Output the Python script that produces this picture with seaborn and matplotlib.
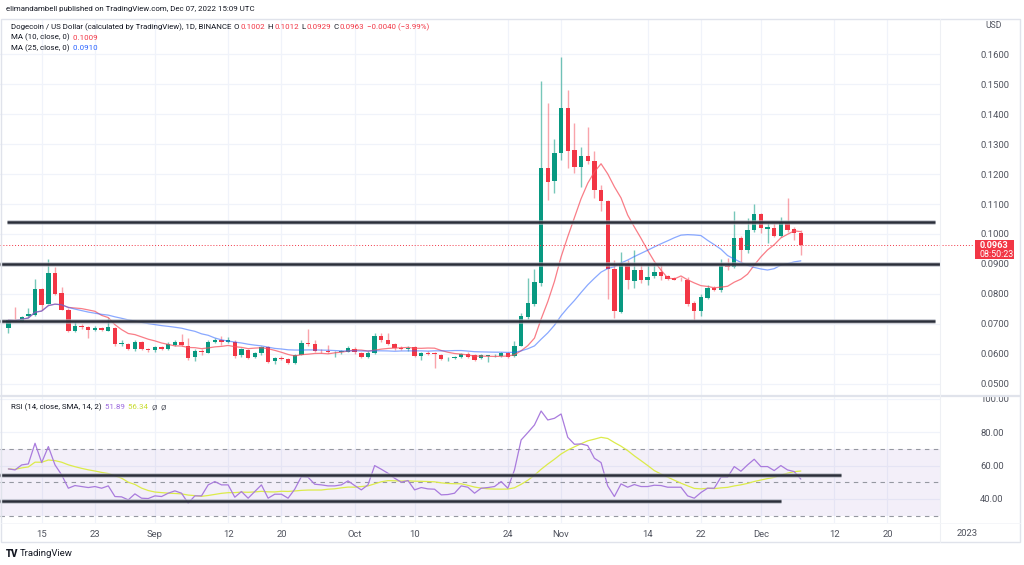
import numpy as np
import pandas as pd
import matplotlib
matplotlib.use("Agg")
import matplotlib.pyplot as plt
import matplotlib.transforms as mtransforms
from matplotlib.patches import Rectangle
from matplotlib.lines import Line2D
import seaborn as sns

# ---------------- data ----------------
# daily candles, Aug 10 2022 .. Dec 7 2022 (index 0..119)
opens = [0.0686, 0.0713, 0.0710, 0.0727, 0.0729, 0.0816, 0.0767, 0.0870, 0.0803, 0.0747,
         0.0677, 0.0693, 0.0690, 0.0680, 0.0687, 0.0677, 0.0688, 0.0633, 0.0634, 0.0617,
         0.0640, 0.0617, 0.0613, 0.0624, 0.0617, 0.0630, 0.0640, 0.0628, 0.0589, 0.0611,
         0.0604, 0.0641, 0.0648, 0.0640, 0.0641, 0.0596, 0.0613, 0.0589, 0.0602, 0.0622,
         0.0577, 0.0588, 0.0583, 0.0571, 0.0597, 0.0636, 0.0632, 0.0611, 0.0609, 0.0605,
         0.0608, 0.0608, 0.0618, 0.0604, 0.0591, 0.0602, 0.0660, 0.0647, 0.0634, 0.0621,
         0.0615, 0.0622, 0.0593, 0.0604, 0.0602, 0.0597, 0.0586, 0.0587, 0.0590, 0.0600,
         0.0597, 0.0587, 0.0594, 0.0595, 0.0593, 0.0604, 0.0593, 0.0628, 0.0724, 0.0767,
         0.0838, 0.1219, 0.1177, 0.1269, 0.1419, 0.1280, 0.1224, 0.1260, 0.1243, 0.1147,
         0.1111, 0.0882, 0.0741, 0.0897, 0.0844, 0.0880, 0.0847, 0.0859, 0.0872, 0.0859,
         0.0852, 0.0848, 0.0847, 0.0769, 0.0743, 0.0786, 0.0821, 0.0813, 0.0893, 0.0889,
         0.0986, 0.0947, 0.1013, 0.1066, 0.1017, 0.1021, 0.0994, 0.1041, 0.1016, 0.1002]
highs = [0.0714, 0.0757, 0.0728, 0.0753, 0.0850, 0.0820, 0.0917, 0.0891, 0.0823, 0.0753,
         0.0710, 0.0700, 0.0693, 0.0692, 0.0690, 0.0720, 0.0691, 0.0645, 0.0638, 0.0645,
         0.0643, 0.0620, 0.0628, 0.0628, 0.0640, 0.0647, 0.0665, 0.0652, 0.0615, 0.0615,
         0.0645, 0.0652, 0.0660, 0.0655, 0.0645, 0.0620, 0.0618, 0.0608, 0.0628, 0.0625,
         0.0590, 0.0592, 0.0588, 0.0600, 0.0645, 0.0682, 0.0645, 0.0616, 0.0630, 0.0610,
         0.0613, 0.0625, 0.0622, 0.0608, 0.0610, 0.0669, 0.0670, 0.0670, 0.0638, 0.0625,
         0.0625, 0.0628, 0.0607, 0.0610, 0.0606, 0.0600, 0.0590, 0.0592, 0.0603, 0.0608,
         0.0600, 0.0600, 0.0598, 0.0600, 0.0608, 0.0607, 0.0642, 0.0735, 0.0853, 0.0883,
         0.1511, 0.1438, 0.1316, 0.1589, 0.1480, 0.1371, 0.1291, 0.1358, 0.1278, 0.1165,
         0.1115, 0.0913, 0.0940, 0.0913, 0.0947, 0.0902, 0.0902, 0.0902, 0.0899, 0.0863,
         0.0858, 0.0855, 0.0857, 0.0775, 0.0800, 0.0830, 0.0826, 0.0916, 0.0920, 0.1078,
         0.0992, 0.1052, 0.1100, 0.1070, 0.1038, 0.1035, 0.1055, 0.1119, 0.1024, 0.1012]
lows = [0.0669, 0.0708, 0.0706, 0.0722, 0.0726, 0.0747, 0.0765, 0.0797, 0.0745, 0.0673,
        0.0673, 0.0683, 0.0653, 0.0676, 0.0677, 0.0675, 0.0628, 0.0628, 0.0612, 0.0610,
        0.0613, 0.0608, 0.0605, 0.0612, 0.0613, 0.0627, 0.0626, 0.0580, 0.0578, 0.0598,
        0.0602, 0.0635, 0.0630, 0.0635, 0.0588, 0.0590, 0.0583, 0.0585, 0.0598, 0.0570,
        0.0565, 0.0580, 0.0565, 0.0568, 0.0595, 0.0625, 0.0608, 0.0603, 0.0603, 0.0590,
        0.0600, 0.0605, 0.0600, 0.0588, 0.0588, 0.0600, 0.0640, 0.0630, 0.0612, 0.0612,
        0.0610, 0.0590, 0.0580, 0.0597, 0.0553, 0.0580, 0.0578, 0.0583, 0.0587, 0.0585,
        0.0578, 0.0583, 0.0572, 0.0590, 0.0590, 0.0588, 0.0590, 0.0625, 0.0718, 0.0760,
        0.0828, 0.1113, 0.1138, 0.1247, 0.1219, 0.1202, 0.1156, 0.1235, 0.1119, 0.1078,
        0.0783, 0.0720, 0.0735, 0.0818, 0.0820, 0.0838, 0.0830, 0.0852, 0.0846, 0.0846,
        0.0845, 0.0843, 0.0760, 0.0713, 0.0727, 0.0782, 0.0811, 0.0808, 0.0880, 0.0885,
        0.0908, 0.0936, 0.1008, 0.1002, 0.0969, 0.0990, 0.0990, 0.1005, 0.0980, 0.0929]
closes = [0.0713, 0.0710, 0.0724, 0.0733, 0.0816, 0.0763, 0.0870, 0.0800, 0.0747, 0.0677,
          0.0693, 0.0690, 0.0680, 0.0687, 0.0680, 0.0690, 0.0633, 0.0636, 0.0617, 0.0640,
          0.0617, 0.0613, 0.0624, 0.0617, 0.0633, 0.0640, 0.0630, 0.0586, 0.0611, 0.0607,
          0.0641, 0.0648, 0.0641, 0.0647, 0.0593, 0.0617, 0.0587, 0.0604, 0.0624, 0.0574,
          0.0586, 0.0584, 0.0569, 0.0597, 0.0636, 0.0632, 0.0611, 0.0609, 0.0607, 0.0607,
          0.0610, 0.0619, 0.0608, 0.0591, 0.0604, 0.0660, 0.0647, 0.0632, 0.0620, 0.0617,
          0.0621, 0.0593, 0.0604, 0.0601, 0.0599, 0.0583, 0.0588, 0.0590, 0.0599, 0.0590,
          0.0581, 0.0596, 0.0596, 0.0597, 0.0604, 0.0591, 0.0628, 0.0727, 0.0769, 0.0839,
          0.1219, 0.1174, 0.1269, 0.1419, 0.1277, 0.1224, 0.1260, 0.1242, 0.1147, 0.1111,
          0.0882, 0.0744, 0.0897, 0.0847, 0.0880, 0.0847, 0.0858, 0.0872, 0.0859, 0.0850,
          0.0847, 0.0845, 0.0767, 0.0744, 0.0789, 0.0821, 0.0813, 0.0893, 0.0889, 0.0986,
          0.0947, 0.1013, 0.1066, 0.1019, 0.1022, 0.0994, 0.1041, 0.1013, 0.1002, 0.0963]
rsi = [58.0, 57.4, 60.4, 61.0, 73.4, 61.8, 71.4, 60.4, 54.4, 46.4,
       48.0, 47.4, 46.8, 47.4, 46.4, 47.8, 41.4, 41.2, 39.4, 43.0,
       40.4, 40.2, 41.8, 41.4, 43.4, 44.8, 43.4, 37.4, 41.8, 41.8,
       48.4, 50.4, 48.4, 48.4, 41.0, 44.4, 40.4, 44.4, 48.4, 40.4,
       42.8, 42.8, 40.4, 45.8, 53.4, 53.0, 48.8, 48.4, 47.8, 47.8,
       48.4, 50.8, 48.0, 45.4, 48.4, 60.0, 57.8, 55.4, 52.4, 50.0,
       51.0, 45.4, 46.8, 46.0, 45.8, 42.4, 42.6, 43.4, 47.8, 47.0,
       43.4, 46.4, 46.8, 47.4, 50.4, 46.4, 57.4, 75.4, 79.8, 84.4,
       92.8, 87.4, 88.4, 91.0, 77.0, 72.8, 73.0, 72.0, 64.4, 61.8,
       47.8, 41.4, 49.0, 47.0, 48.6, 47.4, 47.4, 48.2, 48.0, 47.0,
       47.0, 47.0, 41.8, 40.4, 43.8, 46.4, 46.4, 53.0, 53.0, 59.4,
       56.6, 60.4, 63.8, 59.4, 59.4, 57.0, 60.0, 57.4, 56.4, 51.89]

# date axis (candle index 0 = Aug 10 2022)
tick_pos = [5, 13, 22, 33, 41, 52, 61, 75, 83, 96, 104, 113, 124, 132]
tick_labels = ["15", "23", "Sep", "12", "20", "Oct", "10", "24", "Nov", "14", "22", "Dec", "12", "20"]
year_tick_pos = 144
year_tick_label = "2023"

price_ticks = [0.05, 0.06, 0.07, 0.08, 0.09, 0.10, 0.11, 0.12, 0.13, 0.14, 0.15, 0.16]
rsi_ticks = [40, 60, 80, 100]

# user-drawn horizontal levels: (value, start index, end index)
price_levels = [(0.1041, -0.2, 139.1), (0.0899, -1.3, 140.0), (0.0711, -1.3, 139.1)]
rsi_levels = [(54.4, -1.3, 125.0), (38.7, -1.3, 116.0)]
last_price = 0.0963

# ---------------- style ----------------
sns.set_theme(style="white")
plt.rcParams["font.family"] = ["Roboto", "DejaVu Sans"]

W, H = 1024, 565
fig = plt.figure(figsize=(W / 100, H / 100), dpi=100)
fig.patch.set_facecolor("white")

def rect(x0, y0, x1, y1):
    return [x0 / W, 1 - y1 / H, (x1 - x0) / W, (y1 - y0) / H]

def fx(x):
    return x / W

def fy(y):
    return 1 - y / H

UP = "#089981"
DOWN = "#F23645"
GRID = "#F0F3FA"
TXT = "#131722"
AX_TXT = "#50535E"

ax = fig.add_axes(rect(0, 19, 940, 395))
axr = fig.add_axes(rect(0, 397, 940, 523), sharex=ax)

df = pd.DataFrame({"i": np.arange(len(closes)), "open": opens, "high": highs,
                   "low": lows, "close": closes, "rsi": rsi})
df["ma10"] = df["close"].rolling(10, min_periods=1).mean()
df["ma25"] = df["close"].rolling(25, min_periods=1).mean()
df["rsi_sma"] = df["rsi"].rolling(14, min_periods=1).mean()

up = df["close"] >= df["open"]
body_col = np.where(up, UP, DOWN)
wick_col = [(0.031, 0.6, 0.506, 0.55) if u else (0.949, 0.212, 0.271, 0.45) for u in up]

# grid
for a in (ax, axr):
    for t in tick_pos:
        a.axvline(t, color=GRID, lw=0.9, zorder=0)
for p in price_ticks:
    ax.axhline(p, color=GRID, lw=0.9, zorder=0)
for r in rsi_ticks:
    axr.axhline(r, color=GRID, lw=0.9, zorder=0)

# candles
ax.vlines(df["i"], df["low"], df["high"], colors=wick_col, lw=1.0, zorder=2)
heights = np.maximum((df["close"] - df["open"]).abs(), 0.00018)
ax.bar(df["i"], heights, bottom=np.minimum(df["open"], df["close"]), width=0.66,
       color=body_col, linewidth=0, zorder=3)

# moving averages
sns.lineplot(data=df, x="i", y="ma10", ax=ax, color="#F7525F", alpha=0.75, lw=0.9, zorder=4)
sns.lineplot(data=df, x="i", y="ma25", ax=ax, color="#2962FF", alpha=0.55, lw=0.9, zorder=4)

# user levels
for v, a0, a1 in price_levels:
    ax.plot([a0, a1], [v, v], color="#B2B5BE", lw=3.6, alpha=0.6, solid_capstyle="butt", zorder=5)
    ax.plot([a0, a1], [v, v], color="#2A2E39", lw=1.8, solid_capstyle="butt", zorder=6)

# last price line
ax.plot([-1.3, 144.8], [last_price, last_price], color=DOWN, lw=0.7, ls=(0, (1, 2)),
        clip_on=False, zorder=4)

ax.set_xlim(-1.26, 139.9)
ax.set_ylim(0.04633, 0.17167)

# RSI panel
axr.axhspan(30, 70, color="#7E57C2", alpha=0.09, lw=0, zorder=0)
for lvl in (30, 50, 70):
    axr.axhline(lvl, color="#9598A1", lw=0.8, ls=(0, (4, 4)), zorder=1)
sns.lineplot(data=df, x="i", y="rsi_sma", ax=axr, color="#DCEB4A", lw=0.9, zorder=3)
sns.lineplot(data=df, x="i", y="rsi", ax=axr, color="#A97BDD", lw=0.9, zorder=4)
for v, a0, a1 in rsi_levels:
    axr.plot([a0, a1], [v, v], color="#B2B5BE", lw=3.6, alpha=0.6, solid_capstyle="butt", zorder=5)
    axr.plot([a0, a1], [v, v], color="#2A2E39", lw=1.8, solid_capstyle="butt", zorder=6)
axr.set_ylim(25.5, 101.2)

# axes formatting
for a in (ax, axr):
    a.set_xlabel("")
    a.set_ylabel("")
    for s in a.spines.values():
        s.set_visible(False)
    a.yaxis.tick_right()
    a.tick_params(axis="y", length=0, pad=29, labelsize=6.8, labelcolor=AX_TXT)
    a.set_facecolor("none")

ax.set_yticks(price_ticks)
ax.set_yticklabels([f"{p:.4f}" for p in price_ticks])
ax.tick_params(axis="x", length=0, labelbottom=False)
for lbl in ax.get_yticklabels():
    lbl.set_horizontalalignment("left")

axr.set_yticks(rsi_ticks)
axr.set_yticklabels([f"{r:.2f}" for r in rsi_ticks])
for lbl in axr.get_yticklabels():
    lbl.set_horizontalalignment("left")
axr.set_xticks(tick_pos)
axr.set_xticklabels(tick_labels)
axr.tick_params(axis="x", length=0, pad=5, labelsize=6.8, labelcolor=AX_TXT)
tr = mtransforms.blended_transform_factory(axr.transData, axr.transAxes)
axr.text(year_tick_pos, -0.087, year_tick_label, transform=tr, ha="center", va="center",
         fontsize=6.8, color=AX_TXT, clip_on=False)

# frame / separators
fig.add_artist(Rectangle((fx(1), fy(542)), fx(1019), (542 - 19) / H, transform=fig.transFigure,
                         fill=False, edgecolor="#E0E3EB", lw=1.0))
fig.add_artist(Line2D([fx(1), fx(1020)], [fy(396), fy(396)], transform=fig.transFigure,
                      color="#E0E3EB", lw=1.6))
fig.add_artist(Line2D([fx(940), fx(940)], [fy(19), fy(542)], transform=fig.transFigure,
                      color="#EEF0F4", lw=0.8))
fig.add_artist(Line2D([fx(1), fx(1020)], [fy(523), fy(523)], transform=fig.transFigure,
                      color="#F4F5F8", lw=0.6))

# last price box
fig.add_artist(Rectangle((fx(975), fy(259)), (1014 - 975) / W, (259 - 240) / H,
                         transform=fig.transFigure, facecolor=DOWN, edgecolor="none"))
fig.text(fx(980), fy(245), f"{last_price:.4f}", color="white", fontsize=6.6,
         va="center", ha="left", fontweight="bold")
fig.text(fx(980), fy(254), "08:50:23", color="white", fontsize=6.4, va="center", ha="left")

# texts
fs = 5.65
renderer = fig.canvas.get_renderer()

def chain(x, y, pieces, gap=1.5):
    """Place coloured text pieces one after another (x, y in pixels)."""
    for txt, col in pieces:
        t = fig.text(fx(x), fy(y), txt, fontsize=fs, color=col, va="center", ha="left")
        x = t.get_window_extent(renderer).x1 + gap
    return x

fig.text(fx(6), fy(9), "elimandambell published on TradingView.com, Dec 07, 2022 15:09 UTC",
         fontsize=fs, color=TXT, va="center", ha="left")
fig.text(fx(985), fy(25), "USD", fontsize=6.2, color=AX_TXT, va="center", ha="left")
chain(11, 27, [("Dogecoin / US Dollar (calculated by TradingView), 1D, BINANCE", TXT),
               (" O", TXT), ("0.1002", DOWN), (" H", TXT), ("0.1012", DOWN),
               (" L", TXT), ("0.0929", DOWN), (" C", TXT), ("0.0963", DOWN),
               (" \u22120.0040 (\u22123.99%)", DOWN)], gap=0.8)
chain(11, 37.5, [("MA (10, close, 0)", TXT), (" 0.1009", DOWN)], gap=1.5)
chain(11, 48, [("MA (25, close, 0)", TXT), (" 0.0910", "#2962FF")], gap=1.5)
chain(11, 407, [("RSI (14, close, SMA, 14, 2)", TXT), (" 51.89", "#9C6ADE"),
                (" 56.34", "#C8DC2E"), (" \u00d8", AX_TXT), (" \u00d8", AX_TXT)], gap=1.5)

fig.text(fx(6), fy(554), "TV", fontsize=7, color=TXT, va="center", ha="left", fontweight="heavy")
fig.text(fx(20), fy(554), "TradingView", fontsize=6.8, color=TXT, va="center", ha="left")

fig.savefig("out.png", dpi=100, facecolor="white")
